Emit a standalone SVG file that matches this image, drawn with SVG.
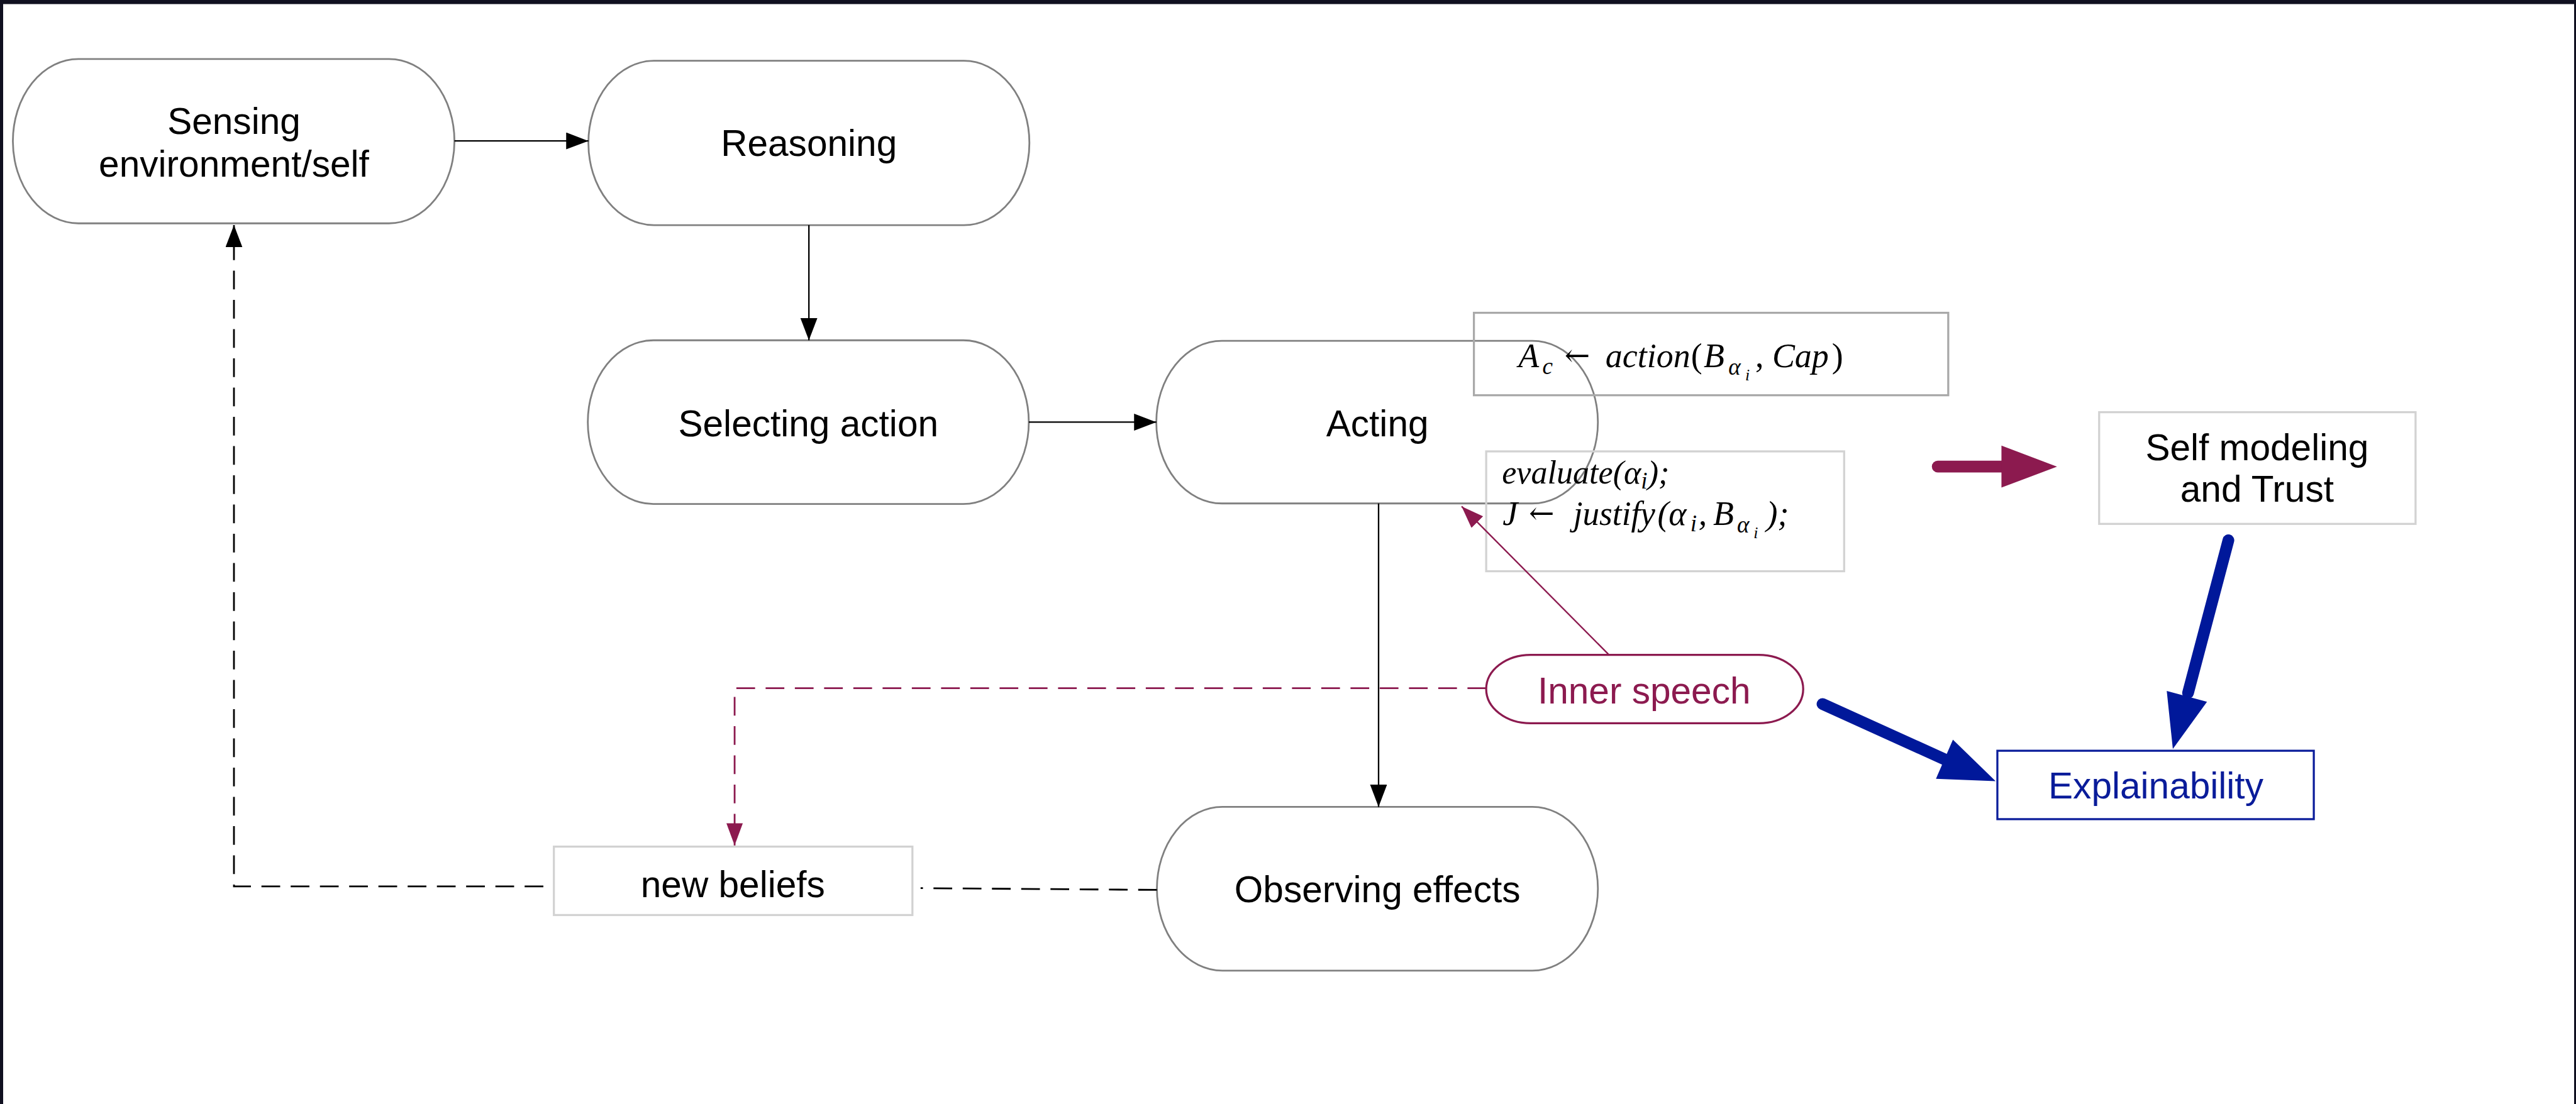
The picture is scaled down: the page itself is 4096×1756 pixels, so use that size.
<svg xmlns="http://www.w3.org/2000/svg" width="4096" height="1756" viewBox="0 0 4096 1756">
  <style>
    .node { fill: #ffffff; stroke: #808080; stroke-width: 3; }
    .box { fill: none; stroke: #d2d2d2; stroke-width: 3.5; }
    .lbl { font-family: "Liberation Sans", Arial, Helvetica, sans-serif; font-size: 63px; fill: #000000; text-anchor: middle; }
    .m { font-family: "Liberation Serif", "Times New Roman", serif; font-style: italic; font-size: 58px; fill: #000000; }
    .mu { font-style: normal; }
    .arw { font-family: "DejaVu Serif", "Liberation Serif", serif; font-style: normal; font-size: 52px; }
    .sub { font-size: 40px; }
    .sub2 { font-size: 28px; }
    .conn { fill: none; stroke: #000000; stroke-width: 2.5; }
    .dash { stroke-dasharray: 32 18; stroke-width: 3; }
    .maroon { stroke: #8c1a4f; }
  </style>
  <defs>
    <marker id="arrBlack" markerUnits="userSpaceOnUse" markerWidth="40" markerHeight="30" refX="38" refY="14.5" orient="auto">
      <path d="M0,0 L38,14.5 L0,29 z" fill="#000000"/>
    </marker>
    <marker id="arrMaroon" markerUnits="userSpaceOnUse" markerWidth="40" markerHeight="30" refX="38" refY="14" orient="auto">
      <path d="M0,0 L38,14 L0,28 z" fill="#8c1a4f"/>
    </marker>
  </defs>

  <!-- window frame -->
  <rect x="0" y="0" width="4096" height="1756" fill="#101020"/>
  <rect x="5" y="6.5" width="4088" height="1750" fill="#ffffff"/>

  <g transform="scale(0.93)">
    <!-- process nodes -->
    <g id="sensing">
      <rect class="node" x="22" y="101" width="755" height="281" rx="112" ry="140.5"/>
      <text class="lbl" x="400" y="229">Sensing</text>
      <text class="lbl" x="400" y="302">environment/self</text>
    </g>
    <g id="reasoning">
      <rect class="node" x="1006" y="104" width="754" height="281" rx="112" ry="140.5"/>
      <text class="lbl" x="1383" y="267">Reasoning</text>
    </g>
    <g id="selecting">
      <rect class="node" x="1005" y="582" width="754" height="280" rx="112" ry="140"/>
      <text class="lbl" x="1382" y="746">Selecting action</text>
    </g>
    <g id="acting">
      <rect class="node" x="1977" y="583" width="755" height="278" rx="112" ry="139"/>
      <text class="lbl" x="2355" y="746">Acting</text>
    </g>
    <g id="observing">
      <rect class="node" x="1978" y="1380" width="754" height="280" rx="112" ry="140"/>
      <text class="lbl" x="2355" y="1543">Observing effects</text>
    </g>
    <g id="new-beliefs">
      <rect class="box" x="947" y="1448" width="613" height="117"/>
      <text class="lbl" x="1253" y="1534">new beliefs</text>
    </g>

    <!-- action formula -->
    <g id="formula-action">
      <rect class="box" x="2520" y="535" width="811" height="141" style="stroke:#a9a9a9"/>
      <text class="m" x="2596" y="628">A</text>
      <text class="m sub" x="2637" y="640">c</text>
      <text class="m arw" x="2675" y="626">←</text>
      <text class="m" x="2745" y="628">action</text>
      <text class="m mu" x="2891" y="628">(</text>
      <text class="m" x="2913" y="628">B</text>
      <text class="m sub" x="2955" y="641">α</text>
      <text class="m sub2" x="2984" y="650">i</text>
      <text class="m mu" x="3001" y="628">,</text>
      <text class="m" x="3030" y="628">Cap</text>
      <text class="m mu" x="3132" y="628">)</text>
    </g>

    <!-- evaluation / justification formula -->
    <g id="formula-justify">
      <rect class="box" x="2541" y="772" width="612" height="205"/>
      <text class="m" x="2568" y="827" style="font-size:56px">evaluate(α<tspan class="sub" dy="8">i</tspan><tspan dy="-8">);</tspan></text>
      <text class="m" x="2569" y="898">J</text>
      <text class="m arw" x="2614" y="896">←</text>
      <text class="m" x="2690" y="898" textLength="140" lengthAdjust="spacingAndGlyphs">justify</text>
      <text class="m" x="2834" y="898">(</text>
      <text class="m" x="2853" y="898">α</text>
      <text class="m sub" x="2890" y="909">i</text>
      <text class="m" x="2904" y="898">,</text>
      <text class="m" x="2929" y="898">B</text>
      <text class="m sub" x="2970" y="911">α</text>
      <text class="m sub2" x="2998" y="920">i</text>
      <text class="m" x="3020" y="898">);</text>
    </g>

    <g id="self-modeling">
      <rect class="box" x="3589" y="705" width="541" height="191"/>
      <text class="lbl" x="3859" y="787">Self modeling</text>
      <text class="lbl" x="3859" y="858">and Trust</text>
    </g>

    <g id="inner-speech">
      <rect x="2541" y="1120" width="542" height="117" rx="76" ry="58.5" fill="#ffffff" stroke="#8c1a4f" stroke-width="3.5"/>
      <text class="lbl" x="2811" y="1203" style="fill:#8c1a4f">Inner speech</text>
    </g>

    <g id="explainability">
      <rect x="3415" y="1284" width="541" height="117" fill="#ffffff" stroke="#0a1c9a" stroke-width="3.5"/>
      <text class="lbl" x="3686" y="1366" style="fill:#0a1c9a">Explainability</text>
    </g>

    <!-- connectors -->
    <g id="connectors">
      <line class="conn" x1="777" y1="241" x2="1006" y2="241" marker-end="url(#arrBlack)"/>
      <line class="conn" x1="1383" y1="385" x2="1383" y2="582" marker-end="url(#arrBlack)"/>
      <line class="conn" x1="1759" y1="722" x2="1977" y2="722" marker-end="url(#arrBlack)"/>
      <line class="conn" x1="2357" y1="861" x2="2357" y2="1380" marker-end="url(#arrBlack)"/>

      <!-- feedback from observed effects through new beliefs -->
      <line class="conn dash" x1="1978" y1="1522" x2="1574" y2="1519"/>
      <path class="conn dash" d="M929,1516 L400,1516 L400,385" marker-end="url(#arrBlack)"/>

      <!-- inner speech links -->
      <path class="conn dash maroon" d="M2541,1177 L1256,1177 L1256,1446" marker-end="url(#arrMaroon)"/>
      <line class="conn maroon" x1="2751" y1="1120" x2="2499" y2="866" marker-end="url(#arrMaroon)"/>

      <!-- bold arrows -->
      <line x1="3313" y1="798" x2="3430" y2="798" stroke="#8c1a4f" stroke-width="20" stroke-linecap="round"/>
      <path d="M3422,762 L3517,798 L3422,834 z" fill="#8c1a4f"/>

      <line x1="3810" y1="924" x2="3741" y2="1185" stroke="#00189a" stroke-width="20" stroke-linecap="round"/>
      <path d="M3704.6,1181.8 L3773.4,1200.2 L3715,1281 z" fill="#00189a"/>

      <line x1="3116" y1="1204" x2="3330" y2="1301" stroke="#00189a" stroke-width="20" stroke-linecap="round"/>
      <path d="M3339,1265 L3412,1336 L3310,1332 z" fill="#00189a"/>
    </g>
  </g>
</svg>
